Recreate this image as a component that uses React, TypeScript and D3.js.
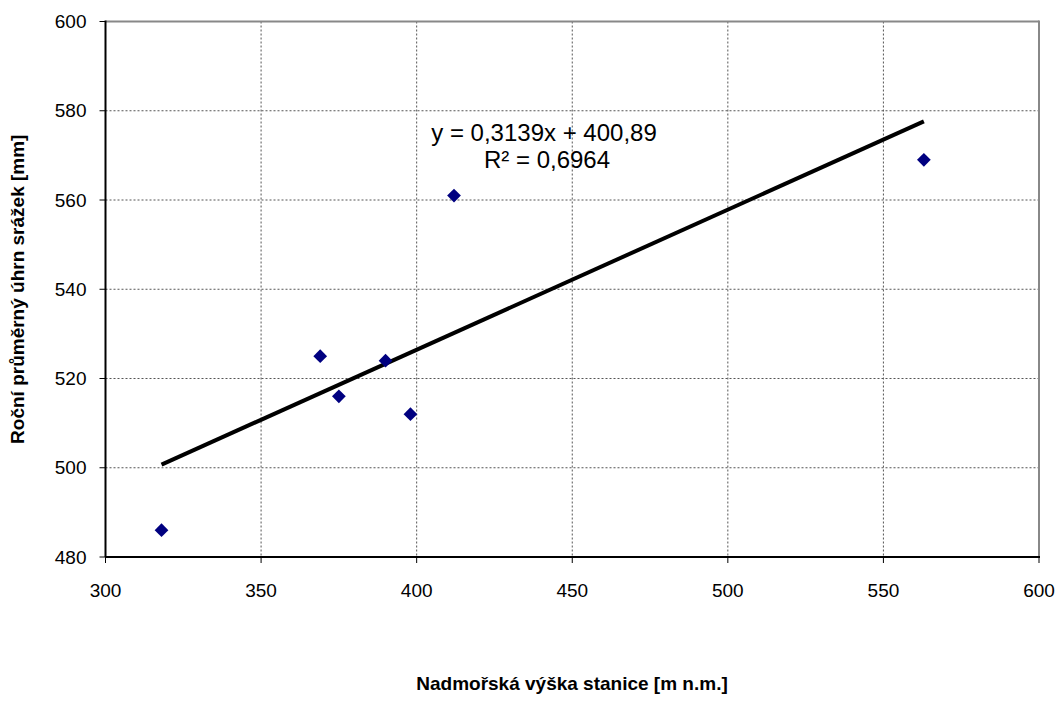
import React from "react";
import * as d3 from "d3";

const altitudes = [318, 369, 375, 390, 398, 412, 563];
const precipitation = [486, 525, 516, 524, 512, 561, 569];
const xTicks = [300, 350, 400, 450, 500, 550, 600];
const yTicks = [480, 500, 520, 540, 560, 580, 600];
const slope = 0.3139;
const intercept = 400.89;
const equationLines = ["y = 0,3139x + 400,89", "R² = 0,6964"];
const xTitle = "Nadmořská výška stanice [m n.m.]";
const yTitle = "Roční průměrný úhrn srážek [mm]";

export default function App() {
  const W = 1060, H = 721;
  const left = 105.5, right = 1039, top = 21.5, bottom = 557;
  const x = d3.scaleLinear().domain([300, 600]).range([left, right]);
  const y = d3.scaleLinear().domain([480, 600]).range([bottom, top]);
  const xMin = d3.min(altitudes)!;
  const xMax = d3.max(altitudes)!;
  const font = "Arial, 'Liberation Sans', sans-serif";
  const diamond = d3.symbol().type(d3.symbolDiamond2).size(120)();

  return (
    <svg width={W} height={H} style={{ position: "absolute", left: 0, top: 0, background: "#fff" }}
      fontFamily={font}>
      <rect x={0} y={0} width={W} height={H} fill="#fff" />
      {xTicks.slice(1, -1).map((t) => (
        <line key={"gx" + t} x1={x(t)} x2={x(t)} y1={top} y2={bottom}
          stroke="#555" strokeWidth={1} strokeDasharray="2,2" />
      ))}
      {yTicks.slice(1, -1).map((t) => (
        <line key={"gy" + t} x1={left} x2={right} y1={y(t)} y2={y(t)}
          stroke="#555" strokeWidth={1} strokeDasharray="2,2" />
      ))}
      <line x1={left} x2={right} y1={top} y2={top} stroke="#888" strokeWidth={2} />
      <line x1={right} x2={right} y1={top - 1} y2={bottom} stroke="#888" strokeWidth={2} />
      <line x1={left} x2={left} y1={top - 1} y2={bottom} stroke="#000" strokeWidth={2} />
      <line x1={left} x2={right + 1} y1={bottom} y2={bottom} stroke="#000" strokeWidth={2} />
      {yTicks.map((t) => (
        <g key={"yt" + t}>
          <line x1={left - 6} x2={left} y1={y(t)} y2={y(t)} stroke="#000" strokeWidth={1} />
          <text x={left - 19} y={y(t)} dy="0.35em" textAnchor="end" fontSize={19} fill="#000">{t}</text>
        </g>
      ))}
      {xTicks.map((t) => (
        <g key={"xt" + t}>
          <line x1={x(t)} x2={x(t)} y1={bottom} y2={bottom + 6} stroke="#000" strokeWidth={1} />
          <text x={x(t)} y={bottom + 40} textAnchor="middle" fontSize={19} fill="#000">{t}</text>
        </g>
      ))}
      <line x1={x(xMin)} y1={y(slope * xMin + intercept)} x2={x(xMax)} y2={y(slope * xMax + intercept)}
        stroke="#000" strokeWidth={4} />
      {altitudes.map((a, i) => (
        <path key={"p" + i} d={diamond!} transform={`translate(${x(a)},${y(precipitation[i])})`} fill="#000080" />
      ))}
      <text x={544} y={141} textAnchor="middle" fontSize={24} fill="#000">{equationLines[0]}</text>
      <text x={547} y={168} textAnchor="middle" fontSize={24} fill="#000">{equationLines[1]}</text>
      <text x={572} y={690} textAnchor="middle" fontSize={19} fontWeight="bold" fill="#000">{xTitle}</text>
      <text transform={`translate(24,${(top + bottom) / 2}) rotate(-90)`} textAnchor="middle" fontSize={19}
        fontWeight="bold" fill="#000">{yTitle}</text>
    </svg>
  );
}
